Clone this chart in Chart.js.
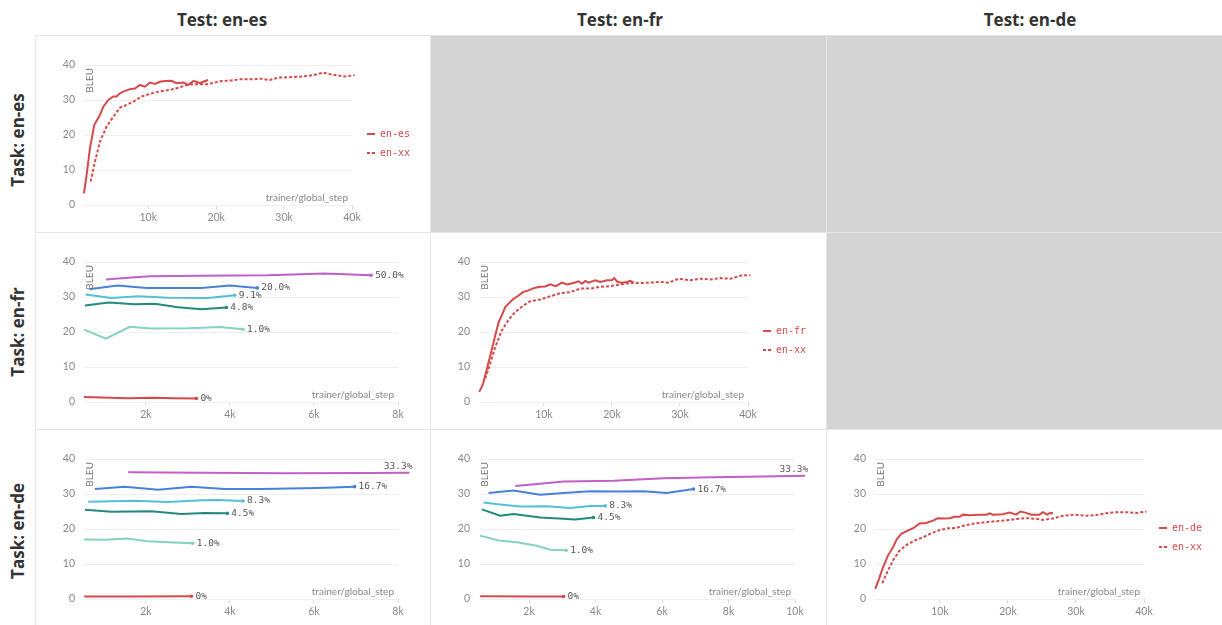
<!DOCTYPE html>
<html>
<head>
<meta charset="utf-8">
<script src="https://cdn.jsdelivr.net/npm/chart.js@4.4.1/dist/chart.umd.min.js"></script>
<style>
    body { margin: 0; background: #fff; width: 1222px; height: 625px; position: relative; overflow: hidden; }
    .head { position: absolute; top: 8px; font: bold 17px "Open Sans", sans-serif; color: #333; transform: translateX(-50%); white-space: nowrap; }
    .rowlab { position: absolute; left: 17px; font: bold 17px "Open Sans", sans-serif; color: #333; white-space: nowrap; transform: translate(-50%, -50%) rotate(-90deg); }
    .cell { position: absolute; background: #fff; }
    .cell::after { content: ""; position: absolute; inset: 0; border-top: 1px solid #e6e6e6; border-left: 1px solid #e6e6e6; pointer-events: none; }
    .gray { background: #d4d4d4; }
    canvas { position: absolute; left: 0; top: 0; }
</style>
</head>
<body>

<div class="head" style="left:222px">Test: en-es</div>
<div class="head" style="left:620px">Test: en-fr</div>
<div class="head" style="left:1030px">Test: en-de</div>

<div class="rowlab" style="top:140px">Task: en-es</div>
<div class="rowlab" style="top:332px">Task: en-fr</div>
<div class="rowlab" style="top:531px">Task: en-de</div>

<div class="cell" style="left:35px;top:35px;width:395px;height:197px"><canvas id="c11" width="395" height="197"></canvas></div>
<div class="cell gray" style="left:430px;top:35px;width:396px;height:197px"></div>
<div class="cell gray" style="left:826px;top:35px;width:396px;height:197px"></div>

<div class="cell" style="left:35px;top:232px;width:395px;height:197px"><canvas id="c21" width="395" height="197"></canvas></div>
<div class="cell" style="left:430px;top:232px;width:396px;height:197px"><canvas id="c22" width="396" height="197"></canvas></div>
<div class="cell gray" style="left:826px;top:232px;width:396px;height:197px"></div>

<div class="cell" style="left:35px;top:429px;width:395px;height:196px"><canvas id="c31" width="395" height="196"></canvas></div>
<div class="cell" style="left:430px;top:429px;width:396px;height:196px"><canvas id="c32" width="396" height="196"></canvas></div>
<div class="cell" style="left:826px;top:429px;width:396px;height:196px"><canvas id="c33" width="396" height="196"></canvas></div>

<script>
// ========== DATA ==========
const yTicks = [0, 10, 20, 30, 40];
const xTicks40k = [10000, 20000, 30000, 40000];
const xTicks8k = [2000, 4000, 6000, 8000];
const xTicks10k = [2000, 4000, 6000, 8000, 10000];

// Task en-es / Test en-es
const esOnEsStep = [540, 930, 1420, 2060, 2890, 3380, 4120, 4850, 5340, 5830, 6320, 7300, 8040, 8770, 9510, 10250, 10980, 11720, 12450, 13430, 14170, 15150, 15880, 16620, 17110, 17600, 18090, 18820];
const esOnEsBleu = [3.3, 8.6, 16.2, 22.9, 25.7, 28.1, 30.0, 31.0, 31.0, 31.9, 32.4, 33.1, 33.3, 34.3, 33.8, 35.0, 34.6, 35.2, 35.4, 35.5, 34.8, 35.0, 34.3, 35.4, 35.2, 34.8, 35.2, 35.7];
const xxOnEsStep = [1520, 2160, 2890, 3870, 4850, 5830, 6810, 7790, 9020, 10000, 10980, 12210, 13430, 14410, 15390, 16370, 17350, 18580, 19800, 20780, 22250, 23480, 25200, 26660, 27890, 29110, 30590, 32550, 34260, 35730, 36960, 38920, 40390, 41620];
const xxOnEsBleu = [6.7, 12.4, 18.1, 22.4, 25.2, 27.8, 28.6, 29.5, 31.0, 31.6, 32.2, 32.6, 33.0, 33.5, 34.1, 34.5, 34.5, 34.5, 35.0, 35.4, 35.6, 35.9, 35.9, 36.1, 35.7, 36.4, 36.5, 36.7, 37.1, 37.8, 37.3, 36.7, 37.1, 37.1];

// Task en-fr / Test en-fr
const frOnFrStep = [490, 1030, 1620, 2250, 2840, 3330, 3820, 4310, 5050, 5540, 6130, 6910, 7750, 8580, 9460, 10200, 10930, 11760, 12650, 13380, 14360, 15100, 15590, 16080, 16570, 17550, 18280, 19260, 19990, 20330, 20830, 21460, 22200, 22690, 23180];
const frOnFrBleu = [2.9, 5.0, 9.5, 14.3, 19.0, 22.7, 24.8, 27.1, 28.6, 29.5, 30.2, 31.4, 31.9, 32.6, 32.9, 33.0, 33.6, 33.1, 34.1, 33.6, 34.0, 34.5, 33.8, 34.6, 34.1, 34.8, 34.3, 34.8, 34.8, 35.4, 34.3, 34.1, 34.3, 34.6, 34.1];
const xxOnFrStep = [1370, 2110, 2840, 3820, 4800, 5780, 7010, 7990, 9460, 10930, 12400, 13870, 15340, 16810, 18280, 19750, 21220, 22690, 24160, 25640, 27110, 28330, 29800, 31520, 32990, 34460, 35930, 37400, 39120, 40340, 41570];
const xxOnFrBleu = [6.7, 11.0, 15.7, 20.5, 23.5, 25.7, 27.6, 28.8, 29.3, 30.2, 31.1, 31.4, 32.4, 32.4, 32.9, 33.1, 33.6, 34.0, 34.0, 34.1, 34.3, 34.1, 35.2, 34.8, 35.2, 35.0, 35.4, 35.2, 36.2, 36.2, 36.2];

// Task en-de / Test en-de
const deOnDeStep = [490, 1030, 1620, 2350, 3090, 3680, 4310, 5050, 6130, 7010, 7990, 8970, 9700, 10440, 11420, 12160, 12890, 13380, 14360, 15830, 16810, 17300, 17790, 19260, 20240, 21220, 21810, 22690, 23430, 24650, 25150, 25740, 26230, 26620];
const deOnDeBleu = [2.9, 5.7, 9.0, 12.4, 14.8, 17.1, 18.6, 19.3, 20.3, 21.6, 21.7, 22.4, 23.1, 23.0, 23.1, 23.5, 23.5, 24.1, 23.9, 24.1, 24.1, 24.5, 24.1, 24.2, 24.7, 24.1, 25.0, 24.6, 24.1, 24.1, 24.8, 24.1, 24.6, 24.5];
const xxOnDeStep = [1520, 2350, 3090, 4060, 5050, 6270, 7500, 8720, 9950, 11170, 12400, 13630, 15100, 16570, 18040, 19510, 20980, 22690, 24160, 25150, 26620, 28090, 29800, 31520, 32990, 34460, 35930, 37400, 38870, 40340, 41570];
const xxOnDeBleu = [4.5, 8.1, 11.0, 13.8, 15.4, 16.7, 17.6, 18.8, 19.7, 20.2, 20.3, 21.0, 21.6, 21.9, 22.2, 22.4, 22.8, 23.1, 22.9, 22.6, 23.0, 23.8, 24.1, 23.8, 24.0, 24.5, 24.8, 24.8, 24.6, 25.0, 25.2];

// Mixing ratios
const frMixLabels = ["0%", "1.0%", "4.8%", "9.1%", "20.0%", "50.0%"];
const deMixLabels = ["0%", "1.0%", "4.5%", "8.3%", "16.7%", "33.3%"];

// Task en-fr / Test en-es
const frMixOnEsStep = [
    [523, 1577, 2131, 2686, 3201],
    [531, 1046, 1617, 2131, 3003, 3756, 4311],
    [547, 1117, 1735, 2211, 2765, 3320, 3914],
    [563, 1181, 1815, 2528, 3479, 4113],
    [650, 1323, 2013, 3320, 3994, 4651],
    [1046, 1577, 2092, 3320, 4905, 6252, 7361]
];
const frMixOnEsBleu = [
    [1.4, 1.1, 1.2, 1.1, 1.0],
    [20.7, 18.1, 21.5, 21.0, 21.1, 21.4, 20.8],
    [27.6, 28.4, 27.9, 28.1, 27.1, 26.5, 27.0],
    [30.7, 29.7, 30.2, 29.8, 29.7, 30.5],
    [32.2, 33.3, 32.6, 32.6, 33.3, 32.6],
    [35.0, 35.5, 35.9, 36.1, 36.2, 36.7, 36.2]
];

// Task en-de / Test en-es
const deMixOnEsStep = [
    [531, 1735, 3083],
    [531, 1022, 1537, 2052, 2528, 3114],
    [547, 1181, 2131, 2844, 3399, 3938],
    [626, 1735, 2528, 3320, 3716, 4311],
    [785, 1498, 2290, 3083, 3875, 4747, 6094, 6966],
    [1577, 3320, 5300, 7282, 8273]
];
const deMixOnEsBleu = [
    [0.7, 0.7, 0.8],
    [17.0, 16.9, 17.3, 16.5, 16.2, 15.9],
    [25.5, 24.9, 25.1, 24.3, 24.6, 24.5],
    [27.8, 28.1, 27.7, 28.2, 28.3, 28.0],
    [31.4, 32.1, 31.2, 32.1, 31.4, 31.4, 31.7, 32.1],
    [36.2, 36.1, 35.9, 36.0, 36.1]
];

// Task en-de / Test en-fr
const deMixOnFrStep = [
    [531, 2035, 3038],
    [531, 1083, 1634, 2236, 2637, 3118],
    [581, 1133, 1534, 2336, 3038, 3388, 3940],
    [632, 1133, 1734, 2536, 3238, 3840, 4291],
    [782, 1534, 2336, 3038, 3840, 4642, 5444, 6145, 6947],
    [1584, 2336, 3038, 4541, 6045, 7549, 9053, 10306]
];
const deMixOnFrBleu = [
    [0.8, 0.7, 0.7],
    [18.1, 16.7, 16.2, 15.2, 14.1, 13.9],
    [25.6, 23.8, 24.3, 23.3, 22.9, 22.7, 23.3],
    [27.6, 27.0, 26.4, 26.5, 26.0, 26.6, 26.6],
    [30.3, 31.0, 29.8, 30.3, 30.8, 30.7, 30.8, 30.3, 31.4],
    [32.3, 32.9, 33.6, 33.8, 34.5, 34.8, 35.0, 35.2]
];

const RED = "#d6494a";
const mixColors = ["#d94848", "#86d2c0", "#238a7c", "#54c0d8", "#4a80d9", "#c25fc9"];

Chart.defaults.font.family = "Lato, sans-serif";

const toPoints = (steps, vals) => steps.map((x, i) => ({ x, y: vals[i] }));


// ========== TEXT / LEGEND PLUGIN ==========
const panelText = {
    id: "panelText",
    afterDatasetsDraw(chart, args, opts) {
        const { ctx, chartArea: a } = chart;

        ctx.save();
        ctx.fillStyle = "#777";
        ctx.font = "10px Lato, sans-serif";
        ctx.translate(a.left + 6, a.top + 3);
        ctx.rotate(-Math.PI / 2);
        ctx.textAlign = "right";
        ctx.textBaseline = "middle";
        ctx.fillText("BLEU", 0, 0);
        ctx.restore();

        ctx.save();
        ctx.fillStyle = "#888";
        ctx.font = "10px Lato, sans-serif";
        ctx.textAlign = "right";
        ctx.textBaseline = "middle";
        ctx.fillText("trainer/global_step", a.right - 4, a.bottom - 7);
        ctx.restore();

        // run names at the end of each line
        if (opts.endLabels) {
            ctx.save();
            ctx.font = "9.5px 'DejaVu Sans Mono', monospace";
            ctx.fillStyle = "#555";
            ctx.textBaseline = "middle";
            chart.data.datasets.forEach((ds, i) => {
                const pts = chart.getDatasetMeta(i).data;
                const p = pts[pts.length - 1];
                const w = ctx.measureText(ds.label).width;
                if (p.x + 5 + w > chart.width - 4) {
                    ctx.textAlign = "right";
                    ctx.fillText(ds.label, p.x + 3, p.y - 6);
                } else {
                    ctx.textAlign = "left";
                    ctx.fillText(ds.label, p.x + 4, p.y);
                }
            });
            ctx.restore();
        }

        // two-run legend on the right
        if (opts.legend) {
            ctx.save();
            ctx.font = "10px 'DejaVu Sans Mono', monospace";
            ctx.textBaseline = "middle";
            ctx.textAlign = "left";
            chart.data.datasets.forEach((ds, i) => {
                const y = a.top + 69 + i * 19;
                const x = a.right + 15;
                ctx.strokeStyle = ds.borderColor;
                ctx.lineWidth = 2;
                ctx.setLineDash(ds.borderDash || []);
                ctx.beginPath();
                ctx.moveTo(x, y);
                ctx.lineTo(x + 8, y);
                ctx.stroke();
                ctx.fillStyle = ds.borderColor;
                ctx.fillText(ds.label, x + 13, y);
            });
            ctx.restore();
        }
    }
};


// ========== PANEL BUILDER ==========
function drawPanel(id, datasets, xMin, xMax, xTicks, plotRight, opts) {
    const canvas = document.getElementById(id);
    const h = canvas.height;

    new Chart(canvas, {
        type: "line",
        data: { datasets },
        plugins: [panelText],
        options: {
            responsive: false,
            animation: false,
            events: [],
            layout: { padding: { top: 30, right: canvas.width - plotRight, left: 0, bottom: 0 } },
            plugins: {
                legend: { display: false },
                tooltip: { enabled: false },
                panelText: opts
            },
            scales: {
                x: {
                    type: "linear",
                    min: xMin,
                    max: xMax,
                    afterBuildTicks: s => { s.ticks = xTicks.map(v => ({ value: v })); },
                    afterFit: s => { s.height = h - 170; },
                    border: { display: false },
                    grid: { drawOnChartArea: false, drawTicks: true, tickLength: 4, color: "#dcdcdc" },
                    ticks: {
                        color: "#888",
                        font: { size: 10.5 },
                        padding: 2,
                        maxRotation: 0,
                        callback: v => (v / 1000) + "k"
                    }
                },
                y: {
                    min: 0,
                    max: 40,
                    afterBuildTicks: s => { s.ticks = yTicks.map(v => ({ value: v })); },
                    afterFit: s => { s.width = 49; },
                    border: { display: false },
                    grid: { color: "#efefef", drawTicks: false },
                    ticks: { color: "#888", font: { size: 10.5 }, padding: 9 }
                }
            }
        }
    });
}

function pairSets(soloName, soloStep, soloBleu, mixStep, mixBleu) {
    return [
        {
            label: soloName,
            data: toPoints(soloStep, soloBleu),
            borderColor: RED, borderWidth: 2, pointRadius: 0, tension: 0, clip: false
        },
        {
            label: "en-xx",
            data: toPoints(mixStep, mixBleu),
            borderColor: RED, borderWidth: 2, borderDash: [3, 2], pointRadius: 0, tension: 0, clip: false
        }
    ];
}

function mixSets(labels, steps, bleus) {
    return labels.map((label, i) => ({
        label,
        data: toPoints(steps[i], bleus[i]),
        borderColor: mixColors[i],
        backgroundColor: mixColors[i],
        borderWidth: 2,
        tension: 0,
        clip: false,
        pointRadius: c => c.dataIndex === steps[i].length - 1 ? 1.8 : 0,
        pointBorderWidth: 0
    }));
}


// ========== DRAW ==========
drawPanel("c11", pairSets("en-es", esOnEsStep, esOnEsBleu, xxOnEsStep, xxOnEsBleu),
    544, 40000, xTicks40k, 317, { legend: true });

drawPanel("c21", mixSets(frMixLabels, frMixOnEsStep, frMixOnEsBleu),
    526, 8000, xTicks8k, 363, { endLabels: true });

drawPanel("c22", pairSets("en-fr", frOnFrStep, frOnFrBleu, xxOnFrStep, xxOnFrBleu),
    455, 40000, xTicks40k, 318, { legend: true });

drawPanel("c31", mixSets(deMixLabels, deMixOnEsStep, deMixOnEsBleu),
    526, 8000, xTicks8k, 363, { endLabels: true });

drawPanel("c32", mixSets(deMixLabels, deMixOnFrStep, deMixOnFrBleu),
    496, 10000, xTicks10k, 365, { endLabels: true });

drawPanel("c33", pairSets("en-de", deOnDeStep, deOnDeBleu, xxOnDeStep, xxOnDeBleu),
    455, 40000, xTicks40k, 318, { legend: true });
</script>
</body>
</html>
